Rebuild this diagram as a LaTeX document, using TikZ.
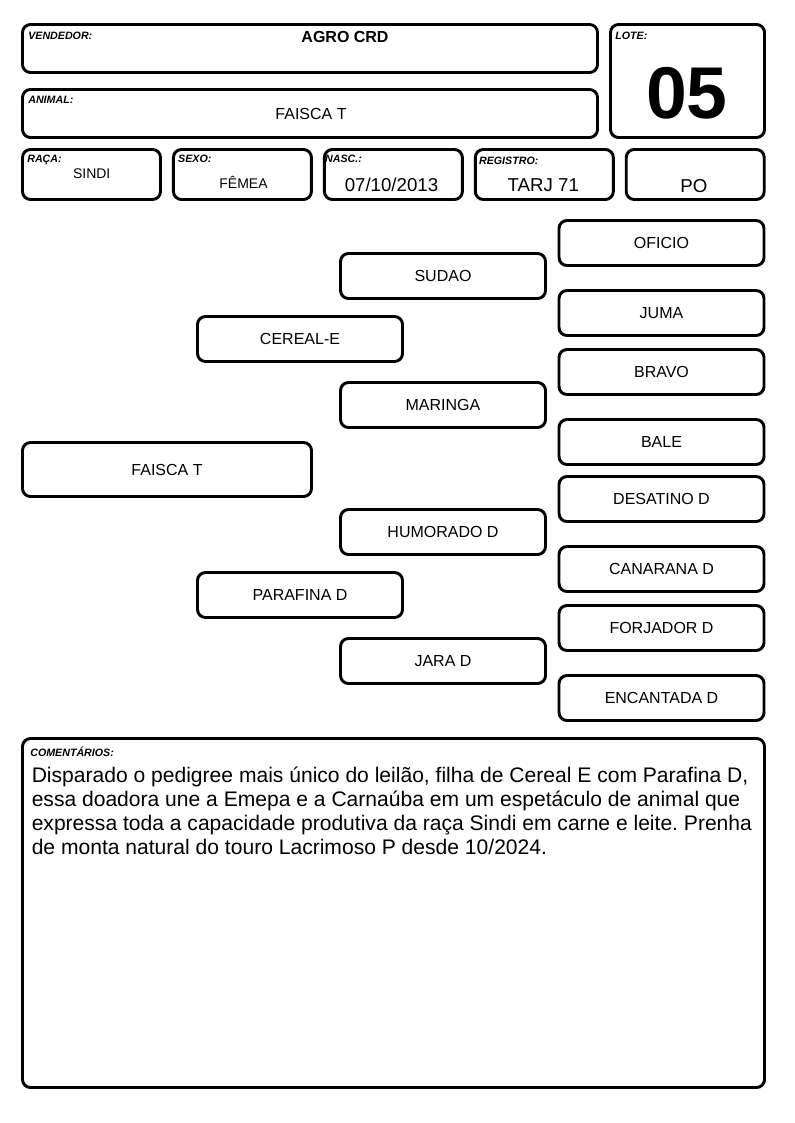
\documentclass[tikz,border=0pt]{standalone}
\usepackage{fontspec}
\setmainfont{Liberation Sans}
\usetikzlibrary{positioning}
\frenchspacing
\newdimen\px \px=0.75pt
\tikzset{x=0.75pt, y=-0.75pt, node distance=10\px,
	card/.style={draw, line width=2.2pt, rounded corners=6pt, inner sep=0pt},
	field/.style={card, minimum width=138\px, minimum height=50\px},
	gen/.style={card, minimum width=205\px, minimum height=45\px, font=\fontsize{12}{14}\selectfont},
	tag/.style={anchor=north west, inner sep=0pt, font=\fontsize{8}{9}\selectfont\bfseries\itshape},
	val/.style={anchor=base, inner sep=0pt, font=\fontsize{14}{16}\selectfont}}

\begin{document}
\begin{tikzpicture}
		\useasboundingbox (0,0) rectangle (794,1123);
		% header
		\node[card, minimum width=575\px, minimum height=48\px]  (vend)  at (310,48.5)  {};
		\node[card, minimum width=575\px, minimum height=48\px]  (anim)  at (310,113.5) {};
		\node[card, minimum width=154\px, minimum height=113\px] (lote)  at (687.5,81)  {};
		\node[field]                  (raca) at (91.5,174.5) {};
		\node[field, right=of raca]   (sexo) {};
		\node[field, right=of sexo]   (nasc) {};
		\node[field, right=of nasc]   (regi) {};
		\node[field, right=of regi]   (cat)  {};
		\node[tag] (vendtag) at ([shift={(7,8.5)}]vend.north west) {VENDEDOR:};
		\node[tag] (animtag) at ([shift={(7,8)}]anim.north west)   {ANIMAL:};
		\node[tag] (lotetag) at ([shift={(6,8.5)}]lote.north west) {LOTE:};
		\node[tag] (racatag) at ([shift={(6,7)}]raca.north west)   {RAÇA:};
		\node[tag] (sexotag) at ([shift={(6,7)}]sexo.north west)   {SEXO:};
		\node[tag] (nasctag) at ([shift={(2,7)}]nasc.north west)   {NASC.:};
		\node[tag] (regitag) at ([shift={(5,8.5)}]regi.north west) {REGISTRO:};
		\node[val, font=\fontsize{12}{14}\selectfont\bfseries] (vendval) at (345,42.7)  {AGRO CRD};
		\node[val, font=\fontsize{12}{14}\selectfont]          (animval) at (311,119.3) {FAISCA T};
		\node[val, font=\fontsize{55}{60}\selectfont\bfseries] (loteval) at (687,119)   {05};
		\node[val, font=\fontsize{10.5}{12}\selectfont]        (racaval) at (91.7,178.3) {SINDI};
		\node[val, font=\fontsize{10.5}{12}\selectfont]        (sexoval) at (243.5,189)  {FÊMEA};
		\node[val] (nascval) at (391.5,192)   {07/10/2013};
		\node[val] (regival) at (543.3,192)   {TARJ 71};
		\node[val] (catval)  at (693.8,192.5) {PO};
		% pedigree
		\node[gen, minimum width=289\px, minimum height=54\px] (faisca) at (167,469.5) {FAISCA T};
		\node[gen] (cereal)    at (300,339)   {CEREAL-E};
		\node[gen] (parafina)  at (300,595)   {PARAFINA D};
		\node[gen] (sudao)     at (443,276)   {SUDAO};
		\node[gen] (maringa)   at (443,405)   {MARINGA};
		\node[gen] (humorado)  at (443,532)   {HUMORADO D};
		\node[gen] (jara)      at (443,661)   {JARA D};
		\node[gen] (oficio)    at (661.5,243) {OFICIO};
		\node[gen] (juma)      at (661.5,313) {JUMA};
		\node[gen] (bravo)     at (661.5,372) {BRAVO};
		\node[gen] (bale)      at (661.5,442) {BALE};
		\node[gen] (desatino)  at (661.5,499) {DESATINO D};
		\node[gen] (canarana)  at (661.5,569) {CANARANA D};
		\node[gen] (forjador)  at (661.5,628) {FORJADOR D};
		\node[gen] (encantada) at (661.5,698) {ENCANTADA D};
		% comments
		\node[card, minimum width=742\px, minimum height=349\px] (coment) at (393.5,913) {};
		\node[tag] (comenttag) at ([shift={(9,10)}]coment.north west) {COMENTÁRIOS:};
		\node[anchor=north west, inner sep=0pt, align=left, font=\fontsize{15.8}{18}\selectfont] (comenttxt) at (31.5,766.5)
			{Disparado o pedigree mais único do leilão, filha de Cereal E com Parafina D,\\
			essa doadora une a Emepa e a Carnaúba em um espetáculo de animal que\\
			expressa toda a capacidade produtiva da raça Sindi em carne e leite. Prenha\\
			de monta natural do touro Lacrimoso P desde 10/2024.};
	\end{tikzpicture}
\end{document}
